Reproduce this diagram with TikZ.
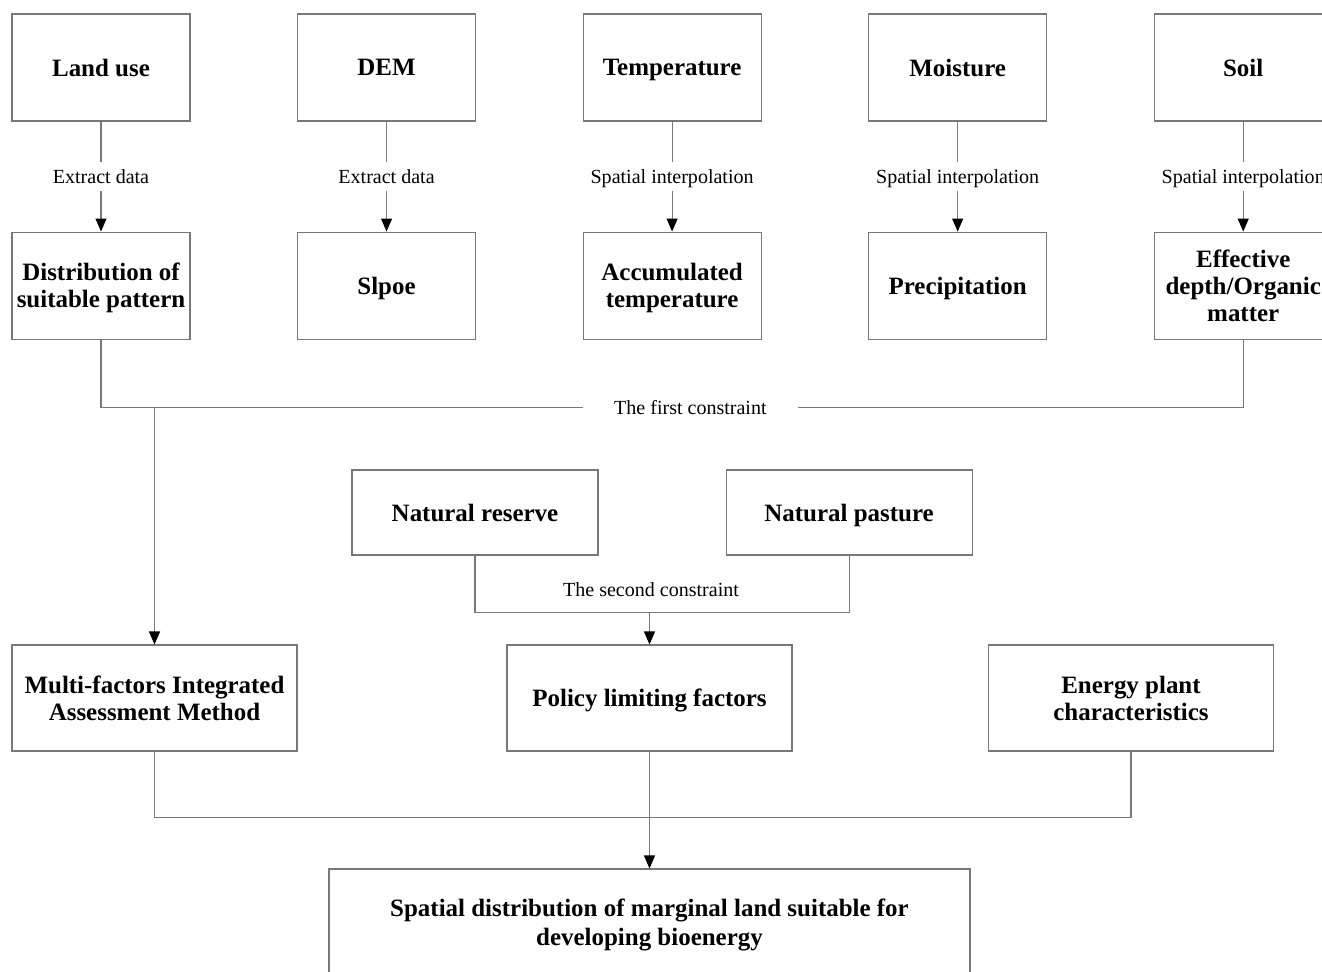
\documentclass[tikz,border=0pt]{standalone}
\usepackage{fontspec}
\setmainfont{Liberation Serif}
\usepackage{tikz}
\usetikzlibrary{arrows.meta, positioning, calc}
\definecolor{linegray}{RGB}{120, 120, 120}
\tikzset{
  boxnode/.style={draw=linegray, line width=0.6pt, align=center, inner sep=2pt, text depth=0pt, font=\fontsize{14.2}{15.4}\selectfont\bfseries},
  srcnode/.style={boxnode, minimum width=3.56cm, minimum height=2.14cm},
  resnode/.style={boxnode, minimum width=4.92cm, minimum height=1.7cm},
  midnode/.style={boxnode, minimum width=5.7cm, minimum height=2.12cm},
  finnode/.style={boxnode, minimum width=12.82cm, minimum height=2.12cm, font=\fontsize{14.2}{16.4}\selectfont\bfseries},
  lblnode/.style={font=\fontsize{11.4}{13}\selectfont, fill=white, text depth=0pt, inner xsep=2pt, inner ysep=0.16cm},
  conn/.style={draw=linegray, line width=0.6pt},
  farrow/.style={conn, -{Triangle[width=0.22cm, length=0.26cm, color=black]}},
}
\begin{document}
\begin{tikzpicture}[node distance=2.13cm]
  \useasboundingbox (0,0) rectangle (26.44,-19.42);
  % data sources
  \node[srcnode] (lu) at (2.02,-1.35) {Land use};
  \node[srcnode, right=of lu] (dem) {DEM};
  \node[srcnode, right=of dem] (tmp) {Temperature};
  \node[srcnode, right=of tmp] (mst) {Moisture};
  \node[srcnode, right=of mst] (soil) {Soil};
  % derived factors
  \node[srcnode, below=2.20cm of lu] (dist) {Distribution of\\suitable pattern};
  \node[srcnode, below=2.20cm of dem] (slp) {Slpoe};
  \node[srcnode, below=2.20cm of tmp] (acc) {Accumulated\\temperature};
  \node[srcnode, below=2.20cm of mst] (prc) {Precipitation};
  \node[srcnode, below=2.20cm of soil] (eff) {Effective\\depth/Organic\\matter};
  \draw[farrow] (lu) -- node[lblnode] (l1) {Extract data} (dist);
  \draw[farrow] (dem) -- node[lblnode] (l2) {Extract data} (slp);
  \draw[farrow] (tmp) -- node[lblnode] (l3) {Spatial interpolation} (acc);
  \draw[farrow] (mst) -- node[lblnode] (l4) {Spatial interpolation} (prc);
  \draw[farrow] (soil) -- node[lblnode] (l5) {Spatial interpolation} (eff);
  % first constraint
  \coordinate (c1) at ($(dist.south)+(0,-1.36)$);
  \draw[conn] (dist.south) -- (c1) -- node[lblnode, pos=0.516, inner xsep=0.62cm] (k1) {The first constraint} (c1 -| eff.south) -- (eff.south);
  % second level
  \node[resnode] (nr) at (9.5,-10.25) {Natural reserve};
  \node[resnode, right=2.54cm of nr] (np) {Natural pasture};
  \node[midnode] (mf) at (3.09,-13.96) {Multi-factors Integrated\\Assessment Method};
  \node[midnode] (pf) at (12.99,-13.96) {Policy limiting factors};
  \node[midnode] (ep) at (22.62,-13.96) {Energy plant\\characteristics};
  \draw[farrow] (c1 -| mf.north) -- (mf.north);
  % second constraint
  \coordinate (c2) at ($(nr.south)+(0,-1.14)$);
  \draw[conn] (nr.south) -- (c2) -- (c2 -| np.south) -- (np.south);
  \node[font=\fontsize{11.4}{13}\selectfont, text depth=0pt, inner sep=0pt, above=0.3cm] (k2) at (13.02,-12.24) {The second constraint};
  \draw[farrow] (c2 -| pf.north) -- (pf.north);
  % result
  \node[finnode] (res) at (12.99,-18.44) {Spatial distribution of marginal land suitable for\\developing bioenergy};
  \coordinate (c3) at ($(mf.south)+(0,-1.32)$);
  \draw[conn] (mf.south) -- (c3) -- (c3 -| ep.south) -- (ep.south);
  \draw[farrow] (pf.south) -- (res.north);
\end{tikzpicture}
\end{document}
